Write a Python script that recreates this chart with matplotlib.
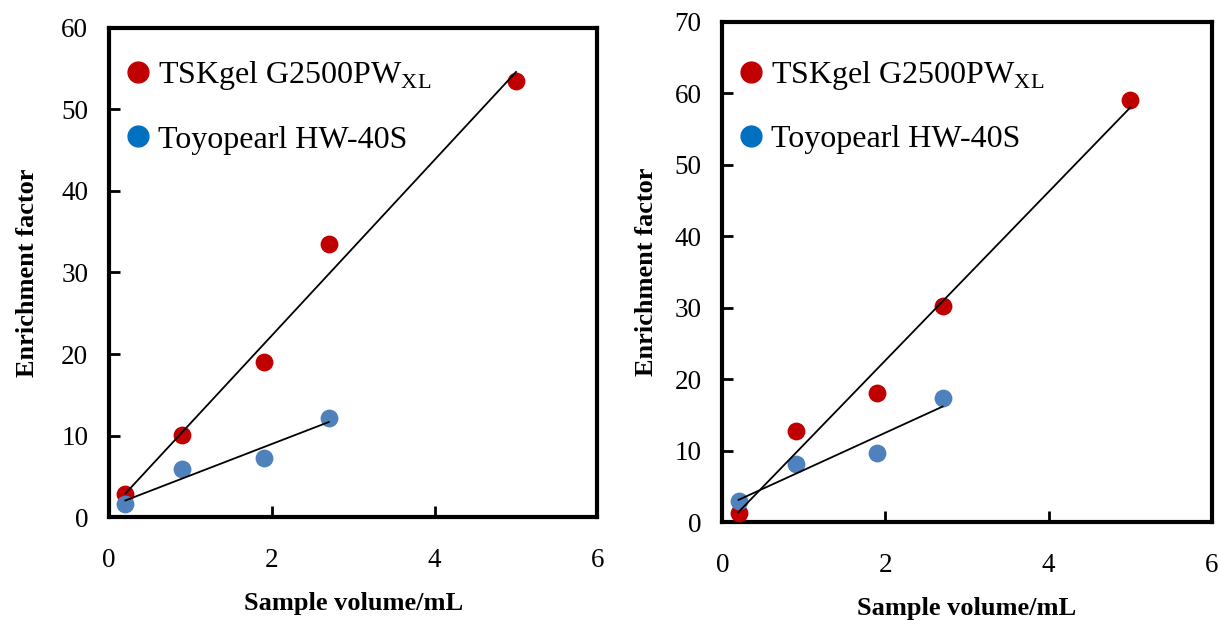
import numpy as np
import matplotlib.pyplot as plt
from matplotlib.lines import Line2D

plt.rcParams['font.family'] = ['Liberation Serif', 'DejaVu Serif']
plt.rcParams['mathtext.fontset'] = 'custom'
plt.rcParams['mathtext.rm'] = 'Liberation Serif'

# sample volumes (mL)
vol_tsk = [0.2, 0.9, 1.9, 2.7, 5.0]
vol_toyo = [0.2, 0.9, 1.9, 2.7]

# enrichment factor, left panel
left_tsk = [2.8, 10.1, 19.0, 33.5, 53.5]
left_toyo = [1.6, 5.9, 7.3, 12.2]

# enrichment factor, right panel
right_tsk = [1.3, 12.7, 18.1, 30.2, 59.1]
right_toyo = [2.9, 8.1, 9.6, 17.4]

x_ticks = [0, 2, 4, 6]
left_yticks = [0, 10, 20, 30, 40, 50, 60]
right_yticks = [0, 10, 20, 30, 40, 50, 60, 70]

red = '#C00000'
blue_pt = '#4F81BD'
blue_leg = '#0070C0'


def panel(ax, tsk, toyo, yticks, leg_y, ylabpad):
    ax.scatter(vol_tsk, tsk, s=165, color=red, zorder=3, linewidths=0)
    ax.scatter(vol_toyo, toyo, s=165, color=blue_pt, zorder=3, linewidths=0)

    # linear trend lines
    for xs, ys in [(vol_tsk, tsk), (vol_toyo, toyo)]:
        k, b = np.polyfit(xs, ys, 1)
        xx = np.array([min(xs), max(xs)])
        ax.plot(xx, k * xx + b, color='black', lw=1.3, zorder=4)

    ax.set_xlim(0, 6)
    ax.set_ylim(yticks[0], yticks[-1])
    ax.set_xticks(x_ticks)
    ax.set_yticks(yticks)
    for s in ax.spines.values():
        s.set_linewidth(3)
    ax.tick_params(direction='in', length=8, width=2, labelsize=19.5)
    ax.tick_params(axis='x', pad=22)
    ax.tick_params(axis='y', pad=15)
    ax.set_xlabel('Sample volume/mL', fontsize=19, fontweight='bold', labelpad=14)
    ax.set_ylabel('Enrichment factor', fontsize=19, fontweight='bold', labelpad=ylabpad)

    handles = [
        Line2D([], [], ls='none', marker='o', ms=15, color=red,
               label=r'TSKgel G2500PW$_\mathregular{XL}$'),
        Line2D([], [], ls='none', marker='o', ms=15, color=blue_leg,
               label='Toyopearl HW-40S'),
    ]
    ax.legend(handles=handles, loc='upper left', frameon=False, fontsize=23,
              handletextpad=0.13, labelspacing=1.03, borderaxespad=0.2,
              borderpad=0.2, handlelength=1.0, bbox_to_anchor=(0.0, leg_y))


fig = plt.figure(figsize=(12.18, 6.2), dpi=100)
ax1 = fig.add_axes([0.0895, 0.166, 0.401, 0.789])
ax2 = fig.add_axes([0.593, 0.158, 0.402, 0.807])

panel(ax1, left_tsk, left_toyo, left_yticks, 0.962, 16)
panel(ax2, right_tsk, right_toyo, right_yticks, 0.951, 12)

fig.savefig('out.png', dpi=100)
